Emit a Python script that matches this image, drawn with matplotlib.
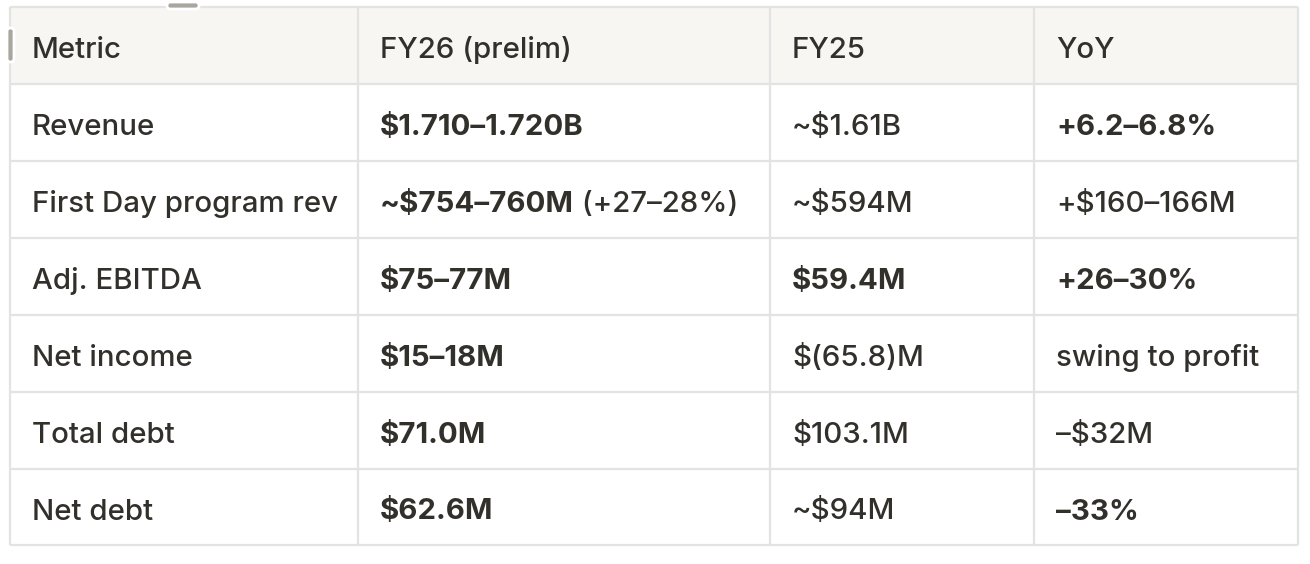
import matplotlib.pyplot as plt
from matplotlib.patches import Rectangle, FancyBboxPatch

# Datos de la tabla
encabezados = ["Metric", "FY26 (prelim)", "FY25", "YoY"]
metricas = ["Revenue", "First Day program rev", "Adj. EBITDA", "Net income", "Total debt", "Net debt"]
fy26 = ["$1.710\u20131.720B", "~$754\u2013760M", "$75\u201377M", "$15\u201318M", "$71.0M", "$62.6M"]
fy26_extra = ["", " (+27\u201328%)", "", "", "", ""]
fy25 = ["~$1.61B", "~$594M", "$59.4M", "$(65.8)M", "$103.1M", "~$94M"]
yoy = ["+6.2\u20136.8%", "+$160\u2013166M", "+26\u201330%", "swing to profit", "\u2013$32M", "\u201333%"]
negrita_fy26 = [True, True, True, True, True, True]
negrita_fy25 = [False, False, True, False, False, False]
negrita_yoy = [True, False, True, False, False, True]

# Disposicion
ANCHO, ALTO = 1310, 564
bordes_x = [10, 358, 770, 1034, 1298]
bordes_y = [7, 84, 161, 238, 315, 392, 469, 545]
PAD = 22
COLOR_TEXTO = "#32302b"
COLOR_LINEA = "#e3e3e1"
COLOR_HEAD = "#f7f6f3"
TAM = 21.2
plt.rcParams['font.family'] = ['Inter', 'DejaVu Sans']

fig = plt.figure(figsize=(ANCHO / 100, ALTO / 100), dpi=100)
ax = fig.add_axes([0, 0, 1, 1])
ax.set_xlim(0, ANCHO)
ax.set_ylim(ALTO, 0)
ax.axis('off')

# fondo del encabezado
ax.add_patch(Rectangle((bordes_x[0], bordes_y[0]), bordes_x[-1] - bordes_x[0],
                       bordes_y[1] - bordes_y[0], facecolor=COLOR_HEAD, edgecolor='none'))

# lineas de la grilla
for y in bordes_y:
    ax.plot([bordes_x[0], bordes_x[-1]], [y, y], color=COLOR_LINEA, lw=1.6, solid_capstyle='butt')
for x in bordes_x:
    ax.plot([x, x], [bordes_y[0], bordes_y[-1]], color=COLOR_LINEA, lw=1.6, solid_capstyle='butt')

renderer = fig.canvas.get_renderer()


def escribir(col, fila, texto, negrita=False, extra=""):
    x = bordes_x[col] + PAD
    yc = (bordes_y[fila] + bordes_y[fila + 1]) / 2 + 12.5
    t = ax.text(x, yc, texto, fontsize=TAM, color=COLOR_TEXTO, va='baseline', ha='left',
                fontweight='bold' if negrita else 500)
    if extra:
        bb = t.get_window_extent(renderer)
        x2 = ax.transData.inverted().transform((bb.x1, bb.y0))[0]
        ax.text(x2, yc, extra, fontsize=TAM, color=COLOR_TEXTO, va='baseline', ha='left',
                fontweight=500)


for j, h in enumerate(encabezados):
    escribir(j, 0, h)

for i in range(len(metricas)):
    escribir(0, i + 1, metricas[i])
    escribir(1, i + 1, fy26[i], negrita_fy26[i], fy26_extra[i])
    escribir(2, i + 1, fy25[i], negrita_fy25[i])
    escribir(3, i + 1, yoy[i], negrita_yoy[i])

# manijas de la interfaz
ax.add_patch(FancyBboxPatch((167, 2), 32, 7, boxstyle="round,pad=0,rounding_size=3",
                            facecolor="#aaa69f", edgecolor='white', lw=2, zorder=5))
ax.add_patch(FancyBboxPatch((7, 28), 7, 34, boxstyle="round,pad=0,rounding_size=3",
                            facecolor="#aaa69f", edgecolor='white', lw=2, zorder=5))

fig.savefig("out.png", dpi=100, facecolor='white')
